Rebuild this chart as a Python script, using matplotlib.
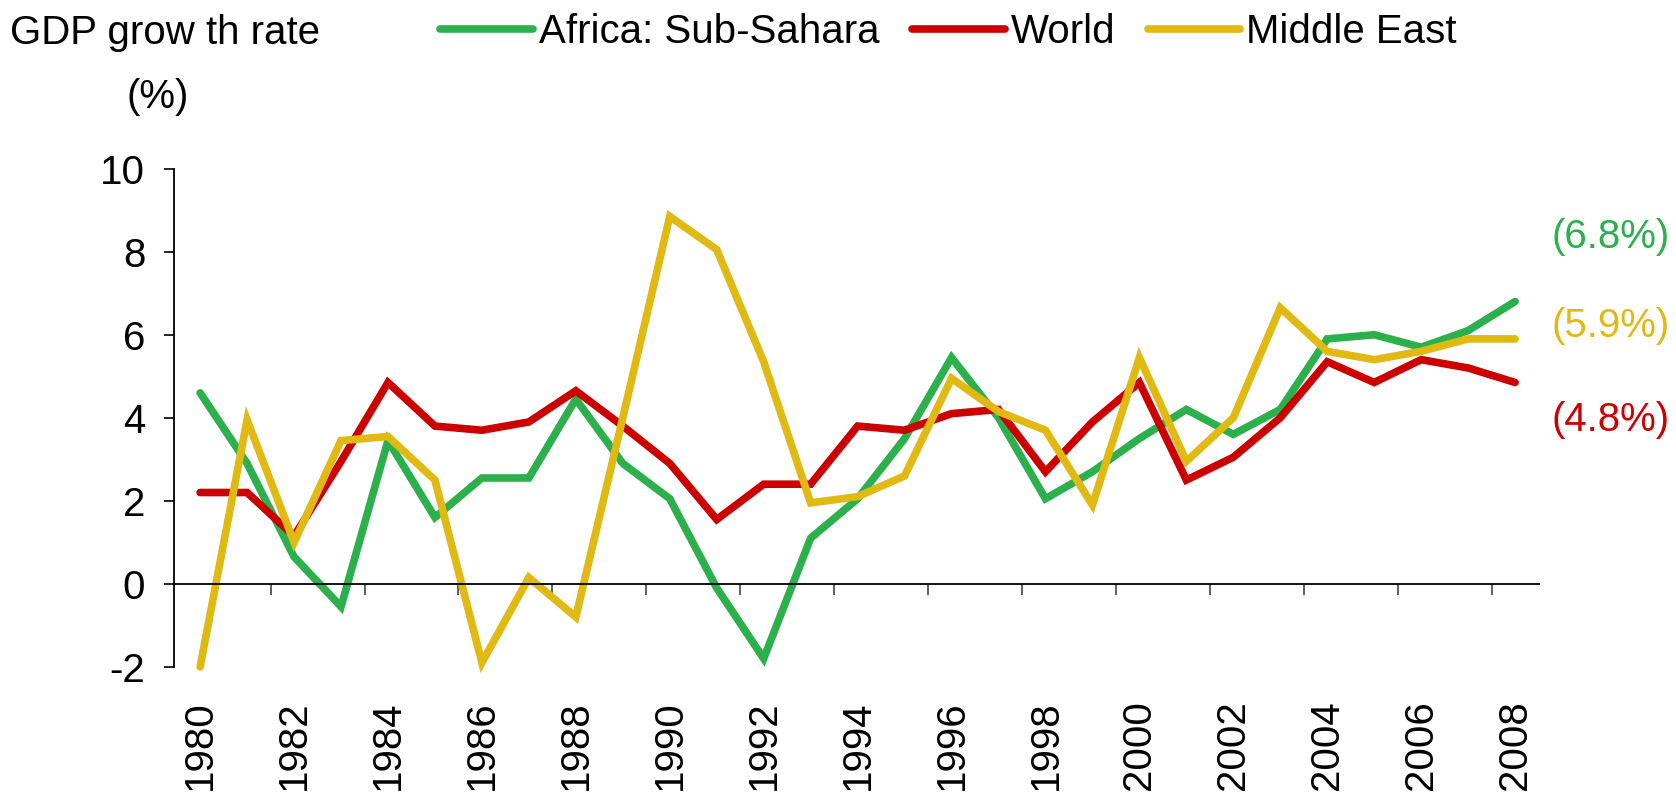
import matplotlib
matplotlib.use('Agg')
import matplotlib.pyplot as plt
from matplotlib.lines import Line2D
import numpy as np

# ---- data ----
years = list(range(1980, 2009))
africa = [4.6, 2.9, 0.65, -0.55, 3.45, 1.6, 2.55, 2.55, 4.45, 2.9,
          2.05, -0.1, -1.8, 1.1, 2.05, 3.5, 5.45, 4.0, 2.05, 2.7,
          3.5, 4.2, 3.6, 4.2, 5.9, 6.0, 5.7, 6.1, 6.8]
world = [2.2, 2.2, 1.15, 2.95, 4.85, 3.8, 3.7, 3.9, 4.65, 3.8,
         2.9, 1.55, 2.4, 2.4, 3.8, 3.7, 4.1, 4.2, 2.7, 3.9,
         4.85, 2.5, 3.05, 4.0, 5.35, 4.85, 5.4, 5.2, 4.85]
mideast = [-2.0, 3.95, 1.0, 3.45, 3.55, 2.5, -1.9, 0.15, -0.8, 4.0,
           8.85, 8.05, 5.35, 1.95, 2.1, 2.6, 4.95, 4.15, 3.7, 1.9,
           5.45, 2.95, 4.0, 6.65, 5.6, 5.4, 5.6, 5.9, 5.9]
series_names = ['Africa: Sub-Sahara', 'World', 'Middle East']
end_labels = ['(6.8%)', '(4.8%)', '(5.9%)']
label_y = [8.35, 3.95, 6.2]

GREEN = '#2bb04b'
RED = '#cc0000'
YELLOW = '#e1b913'
colors = [GREEN, RED, YELLOW]

FS = 29
LW = 5.5
plt.rcParams['font.family'] = ['Liberation Sans', 'DejaVu Sans']
plt.rcParams['axes.unicode_minus'] = False

fig = plt.figure(figsize=(16.76, 7.92), dpi=100)
ax = fig.add_axes([0.104, 0.158, 0.814, 0.629])

for vals, c in zip([africa, world, mideast], colors):
    ax.plot(years, vals, color=c, lw=LW, solid_capstyle='round', solid_joinstyle='miter',
            clip_on=False)

ax.set_xlim(1979.45, 2008.5)
ax.set_ylim(-2, 10)
ax.set_yticks(np.arange(-2, 11, 2))

# category-style x axis: spine at zero, labels below the plot
ax.spines['top'].set_visible(False)
ax.spines['right'].set_visible(False)
ax.spines['bottom'].set_position(('data', 0))
ax.spines['bottom'].set_linewidth(1.3)
ax.spines['left'].set_linewidth(1.3)

ax.set_xticks(years[::2])
ax.set_xticklabels([str(y) for y in years[::2]])
ax.set_xticks(np.arange(1981.5, 2008, 2), minor=True)
ax.tick_params(axis='x', which='major', length=0, pad=84, labelrotation=90, labelsize=FS)
ax.tick_params(axis='x', which='minor', length=8, width=1.2, direction='out', color='#444444')
ax.tick_params(axis='y', which='major', length=7, width=1.2, direction='out', pad=14,
               labelsize=FS)

# end-of-line value labels
for txt, yv, c in zip(end_labels, label_y, colors):
    ax.text(2008.78, yv, txt, color=c, fontsize=FS, va='center', ha='left', clip_on=False)

# axis title
fig.text(0.006, 0.958, 'GDP grow th rate', fontsize=FS, ha='left', va='center')
fig.text(0.094, 0.878, '(%)', fontsize=FS, ha='center', va='center')

handles = [Line2D([0], [0], color=c, lw=LW, solid_capstyle='round') for c in colors]
fig.legend(handles, series_names, loc='center', bbox_to_anchor=(0.566, 0.96), ncol=3,
           frameon=False, fontsize=FS, handlelength=2.3, handletextpad=0.15,
           columnspacing=0.8, borderpad=0)

plt.savefig('out.png', dpi=100, facecolor='white')
